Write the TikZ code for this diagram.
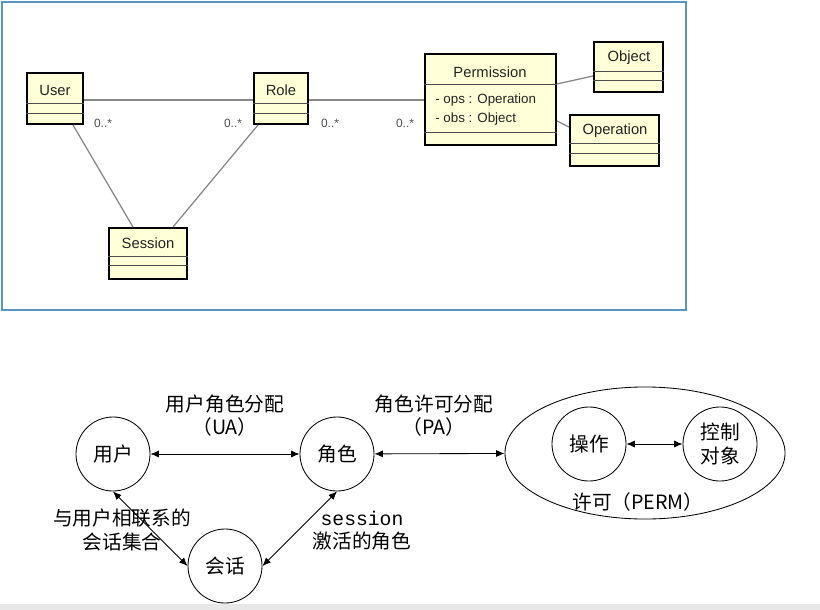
\documentclass[tikz,border=0pt]{standalone}
\usepackage{fontspec}
\setmainfont{Liberation Sans}
\newfontfamily\cjk{Noto Sans CJK SC}
\newfontfamily\mono{Liberation Mono}
\usetikzlibrary{arrows.meta, positioning, calc, fit, shapes.geometric}
\definecolor{umlfill}{RGB}{255,255,216}
\definecolor{frameblue}{RGB}{86,152,196}
\definecolor{umltext}{RGB}{35,35,35}
\definecolor{assocgray}{RGB}{135,135,135}
\tikzset{
  cls/.style     = {draw=black, line width=1.4pt, fill=umlfill, inner sep=0pt, fit={#1}},
  ctitle/.style  = {font=\fontsize{10.5}{12}\selectfont, text=umltext, inner sep=0pt},
  attr/.style    = {font=\fontsize{9.5}{11}\selectfont, text=umltext, inner sep=0pt, anchor=west},
  sepline/.style = {draw=black!70, line width=0.6pt},
  assoc/.style   = {draw=assocgray, line width=0.9pt},
  mult/.style    = {font=\fontsize{8.5}{10}\selectfont, text=black!70, inner sep=0pt},
  ent/.style     = {circle, draw, line width=0.6pt, minimum size=1.85cm, inner sep=0pt,
                    font=\cjk\fontsize{14}{16}\selectfont, align=center},
  zh/.style      = {font=\cjk\fontsize{14}{16.5}\selectfont, align=center, inner sep=0pt},
  biarr/.style   = {{Latex[length=6pt,width=5pt]}-{Latex[length=6pt,width=5pt]}, line width=0.6pt},
}

\begin{document}
\begin{tikzpicture}[x=0.025cm, y=-0.025cm]
  \useasboundingbox (0,0) rectangle (820,610);
  \fill[black!9] (0,604) rectangle (820,610);

  % UML class diagram
  \draw[frameblue, line width=0.9pt] (2,2) rectangle (686,310);

  \node[cls={(27,73) (83,124)}] (user) {};
  \node[cls={(254,73) (308,124)}] (role) {};
  \node[cls={(109,228) (187,279)}] (session) {};
  \node[cls={(425,54) (556,145)}] (permission) {};
  \node[cls={(594,42) (663,92)}] (object) {};
  \node[cls={(570,115) (659,166)}] (operation) {};

  \foreach \n/\a/\b in {user/103/113, role/103/113, session/256/265,
                        object/71/80, operation/143/153, permission/84/132}
    {
      \draw[sepline] (\n.west |- 0,\a) -- (\n.east |- 0,\a);
      \draw[sepline] (\n.west |- 0,\b) -- (\n.east |- 0,\b);
    }

  \node[ctitle] (userT) at (55,90) {User};
  \node[ctitle] (roleT) at (281,90) {Role};
  \node[ctitle] (sessionT) at (148,243) {Session};
  \node[ctitle] (permissionT) at (490,72) {Permission};
  \node[ctitle] (objectT) at (629,58) {Object};
  \node[ctitle] (operationT) at (615,131) {Operation};
  \node[attr] (opsA) at (435,100) {- ops : Operation};
  \node[attr] (obsA) at (435,119) {- obs : Object};

  \draw[assoc] (user.east |- 0,100) -- (role.west |- 0,100);
  \draw[assoc] (role.east |- 0,100) -- (permission.west |- 0,100);
  \draw[assoc] (permission.east |- 0,84) -- (object.west |- 0,76);
  \draw[assoc] (permission.east |- 0,121) -- (operation.west |- 0,127);
  \draw[assoc] (user.south -| 73,0) -- (session.north -| 133,0);
  \draw[assoc] (role.south -| 258,0) -- (session.north -| 173,0);

  \node[mult] (m1) at (103,123) {0..*};
  \node[mult] (m2) at (233,123) {0..*};
  \node[mult] (m3) at (330,123) {0..*};
  \node[mult] (m4) at (405,123) {0..*};

  % RBAC model
  \node[ent] (yonghu) at (113,454) {用户};
  \node[ent] (juese) at (337,454) {角色};
  \node[ent] (huihua) at (225,566) {会话};
  \node[ellipse, draw, line width=0.6pt, minimum width=7cm, minimum height=3.3cm]
    (perm) at (645,453) {};
  \node[ent] (caozuo) at (589,444) {操作};
  \node[ent, font=\cjk\fontsize{14}{17}\selectfont] (duixiang) at (720,444) {控制\\对象};

  \draw[biarr] (yonghu) -- (juese);
  \draw[biarr] (juese) -- (perm);
  \draw[biarr] (caozuo) -- (duixiang);
  \draw[biarr] (yonghu.south) -- (huihua.west);
  \draw[biarr] (juese.south) -- (huihua.east);

  \node[zh] (uaLab) at (225,416) {用户角色分配\\（UA）};
  \node[zh] (paLab) at (434,416) {角色许可分配\\（PA）};
  \node[zh] (linkLab) at (122,530) {与用户相联系的\\会话集合};
  \node[zh] (sessLab) at (362,531) {{\mono session}\\激活的角色};
  \node[zh] (permLab) at (638,502) {许可（PERM）};
\end{tikzpicture}
\end{document}
